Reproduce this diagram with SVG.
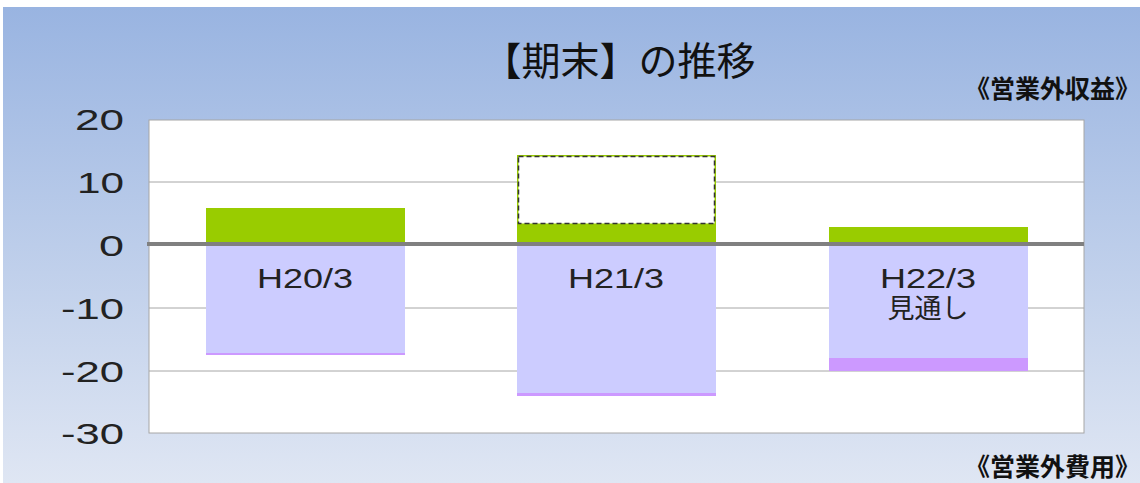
<svg xmlns="http://www.w3.org/2000/svg" width="1140" height="483" viewBox="0 0 1140 483">
<defs>
<linearGradient id="bg" x1="0" y1="0" x2="0" y2="1">
<stop offset="0" stop-color="#99b4e1"/>
<stop offset="1" stop-color="#dfe6f3"/>
</linearGradient>
<style>
.ax{font-family:"Liberation Sans",Arial,sans-serif;font-size:30px;fill:#222;text-anchor:end}
.cat{font-family:"Liberation Sans","Noto Sans CJK JP",sans-serif;font-size:27px;fill:#222;text-anchor:middle}
.lbl{font-family:"Noto Sans CJK JP",sans-serif;font-size:25px;font-weight:bold;fill:#111;text-anchor:end}
.grid{stroke:#a6a6a6;stroke-width:1}
.g{fill:#99cc00}
.b{fill:#ccccff}
.p{fill:#cc99ff}
</style>
</defs>
<rect x="3" y="7" width="1137" height="476" fill="url(#bg)"/>
<text x="619" y="75" font-family="'Noto Sans CJK JP',sans-serif" font-size="39" text-anchor="middle" fill="#111">【期末】の推移</text>
<text class="lbl" x="1140" y="98">《営業外収益》</text>
<text class="lbl" x="1140" y="476">《営業外費用》</text>
<g id="plot">
<rect x="149" y="120" width="935" height="313" fill="#fff" stroke="#a6a6a6" stroke-width="1"/>
<line class="grid" x1="149" y1="182" x2="1084" y2="182"/>
<line class="grid" x1="149" y1="308" x2="1084" y2="308"/>
<line class="grid" x1="149" y1="371" x2="1084" y2="371"/>
</g>
<g id="axis-labels">
<text class="ax" x="124" y="130" textLength="49" lengthAdjust="spacingAndGlyphs">20</text>
<text class="ax" x="124" y="193" textLength="47" lengthAdjust="spacingAndGlyphs">10</text>
<text class="ax" x="124" y="256" textLength="25" lengthAdjust="spacingAndGlyphs">0</text>
<text class="ax" x="124" y="319" textLength="63" lengthAdjust="spacingAndGlyphs">-10</text>
<text class="ax" x="124" y="382" textLength="63" lengthAdjust="spacingAndGlyphs">-20</text>
<text class="ax" x="124" y="444" textLength="63" lengthAdjust="spacingAndGlyphs">-30</text>
</g>
<g id="bar-h20">
<rect class="g" x="206" y="208" width="199" height="36"/>
<rect class="b" x="206" y="244" width="199" height="109"/>
<rect class="p" x="206" y="353" width="199" height="2"/>
<text class="cat" x="305" y="288" textLength="96" lengthAdjust="spacingAndGlyphs">H20/3</text>
</g>
<g id="bar-h21">
<rect class="g" x="517" y="155" width="199" height="89"/>
<rect x="518.5" y="156.5" width="196" height="67" fill="#fff" stroke="#333" stroke-width="1.5" stroke-dasharray="5,3"/>
<rect class="b" x="517" y="244" width="199" height="149"/>
<rect class="p" x="517" y="393" width="199" height="3"/>
<text class="cat" x="616" y="288" textLength="96" lengthAdjust="spacingAndGlyphs">H21/3</text>
</g>
<g id="bar-h22">
<rect class="g" x="829" y="227" width="199" height="17"/>
<rect class="b" x="829" y="244" width="199" height="114"/>
<rect class="p" x="829" y="358" width="199" height="13"/>
<text class="cat" x="928" y="288" textLength="96" lengthAdjust="spacingAndGlyphs">H22/3</text>
<text class="cat" x="928" y="318" font-family="'Noto Sans CJK JP',sans-serif" font-size="23">見通し</text>
</g>
<g id="connectors">
<line x1="147" y1="244" x2="1084" y2="244" stroke="#808080" stroke-width="4"/>
</g>
</svg>
